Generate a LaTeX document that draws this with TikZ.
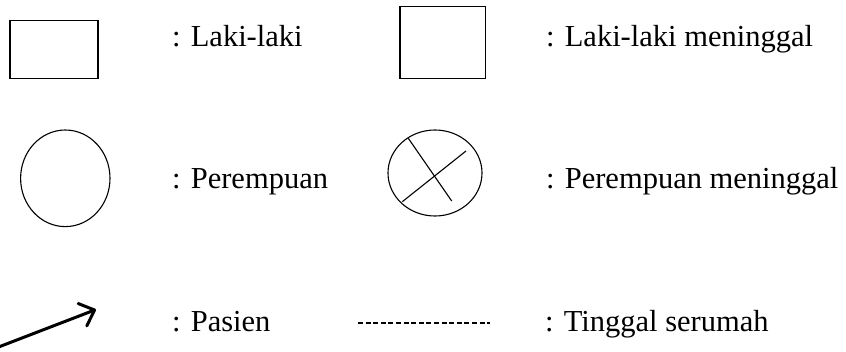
\documentclass[tikz,border=0pt]{standalone}
\usepackage{fontspec}
\setmainfont{Liberation Serif}
\usetikzlibrary{arrows.meta,shapes.geometric}
\begin{document}
\begin{tikzpicture}[x=1pt,y=-1pt,
  sym/.style={draw=black, line width=1.1pt},
  lbl/.style={anchor=base west, inner sep=0pt, font=\fontsize{30.5}{36}\selectfont},
  crossline/.style={draw=black, line width=1.1pt},
  patient/.style={draw=black, line width=3pt, line cap=round,
    -{Straight Barb[length=13pt,width=24pt,line width=3pt,round]}},
  liveline/.style={draw=black, line width=1.8pt, dash pattern=on 5pt off 2.6pt}
]
\useasboundingbox (0,0) rectangle (846,351);
% row 1
\node[sym, rectangle, minimum width=88pt, minimum height=58pt, inner sep=0pt] (male) at (54,49.7) {};
\node[lbl] (tmale) at (172,46) {: Laki-laki};
\node[sym, rectangle, minimum width=85.7pt, minimum height=72pt, inner sep=0pt] (maled) at (442.8,42.7) {};
\node[lbl] (tmaled) at (546,46) {: Laki-laki meninggal};
% row 2
\node[sym, ellipse, minimum width=89.4pt, minimum height=96.6pt, inner sep=0pt] (female) at (65.3,178.3) {};
\node[lbl] (tfemale) at (172,188) {: Perempuan};
\node[sym, ellipse, minimum width=94pt, minimum height=86pt, inner sep=0pt] (femaled) at (435,173) {};
\coordinate (c1a) at (408.3,138.3);
\coordinate (c1b) at (451.7,201);
\coordinate (c2a) at (402.3,201.7);
\coordinate (c2b) at (466,151);
\draw[crossline] (c1a) -- (c1b);
\draw[crossline] (c2a) -- (c2b);
\node[lbl] (tfemaled) at (546,188) {: Perempuan meninggal};
% row 3
\coordinate (pa) at (-4,348);
\coordinate (pb) at (96,309.5);
\draw[patient] (pa) -- (pb);
\node[lbl] (tpatient) at (172,331) {: Pasien};
\coordinate (la) at (358,323.3);
\coordinate (lb) at (490,323.3);
\draw[liveline] (la) -- (lb);
\node[lbl] (tlive) at (545,331) {: Tinggal serumah};
\end{tikzpicture}
\end{document}
